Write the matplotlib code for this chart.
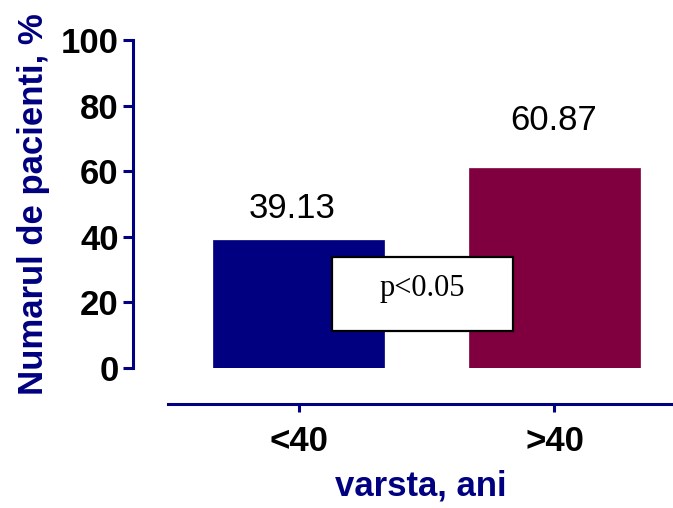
import matplotlib
matplotlib.use("Agg")
import matplotlib.pyplot as plt
from matplotlib.patches import Rectangle

categories = ["<40", ">40"]
values = [39.13, 60.87]
value_labels = ["39.13", "60.87"]
label_offsets = [9.6, 14.7]
label_dx = [-0.027, -0.004]
colors = ["#000080", "#80003F"]
yticks = [0, 20, 40, 60, 80, 100]
navy = "#000080"

plt.rcParams['font.family'] = ['Liberation Sans', 'DejaVu Sans']

W, H = 673, 508
fig = plt.figure(figsize=(W / 100, H / 100), dpi=100)
left, right, top, bottom = 168, 673, 40, 368
ax = fig.add_axes([left / W, 1 - bottom / H, (right - left) / W, (bottom - top) / H])

x = list(range(len(categories)))
ax.bar(x, values, width=0.668, color=colors, edgecolor=colors, linewidth=0.5, zorder=2)

for xi, v, lab, off, dx in zip(x, values, value_labels, label_offsets, label_dx):
    ax.text(xi + dx, v + off, lab, ha="center", va="center",
            fontsize=25, color="black")

ax.set_xlim(-0.51, 1.463)
ax.set_ylim(0, 100)

for s in ["top", "right"]:
    ax.spines[s].set_visible(False)
ax.spines["left"].set_position(("outward", 25.5))
ax.spines["bottom"].set_position(("outward", 26))
for s in ["left", "bottom"]:
    ax.spines[s].set_color(navy)
    ax.spines[s].set_linewidth(2.2)
ax.tick_params(axis="y", direction="out", length=7, width=2.2, color=navy, pad=3,
               labelsize=25, labelcolor="black")
ax.tick_params(axis="x", direction="out", length=6, width=2.2, color=navy, pad=9,
               labelsize=25, labelcolor="black")

ax.set_yticks(yticks)
ax.set_yticklabels([str(t) for t in yticks], fontsize=25, fontweight="bold")
ax.set_xticks(x)
ax.set_xticklabels(categories, fontsize=25, fontweight="bold")

ax.set_ylabel("Numarul de pacienti, %", fontsize=25, fontweight="bold", color=navy,
              labelpad=8)
ax.set_xlabel("varsta, ani", fontsize=25, fontweight="bold", color=navy,
              labelpad=8)

# p-value annotation box
rect = Rectangle((0.131, 11.3), 0.707, 22.5, facecolor="white", edgecolor="black",
                 linewidth=1.6, zorder=3)
ax.add_patch(rect)
ax.text(0.4845, 24.3, "p<0.05", ha="center", va="center", fontsize=22,
        family="Liberation Serif", zorder=4)

fig.savefig("out.png", dpi=100)
